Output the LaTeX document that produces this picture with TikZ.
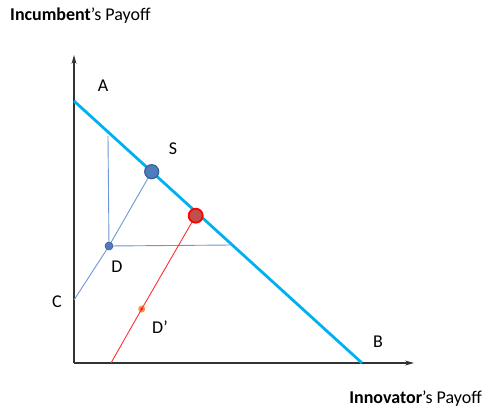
\documentclass[tikz,border=0pt]{standalone}
\usepackage{fontspec}
\setmainfont{Carlito}
\usepackage{tikz}
\usetikzlibrary{arrows.meta, positioning, calc}
\usepackage{xcolor}
\definecolor{frontcyan}{HTML}{00B0F0}
\definecolor{pathblue}{HTML}{6F97D0}
\definecolor{dotblue}{HTML}{4F7CBD}
\definecolor{dotedge}{HTML}{3A5F91}
\definecolor{dotred}{HTML}{C0504D}
\definecolor{linered}{HTML}{FF3030}
\definecolor{dotorange}{HTML}{F79646}

\begin{document}
\begin{tikzpicture}[x=1pt, y=-1pt,
      lbl/.style={font=\fontsize{18}{20}\selectfont, inner sep=0pt},
      axis/.style={-{Stealth[length=9pt, width=5pt]}, line width=1.1pt, black!80},
      frontier/.style={line width=2.8pt, frontcyan},
      guide/.style={line width=0.9pt, pathblue},
      dealpath/.style={line width=0.9pt, linered},
      pt/.style={circle, inner sep=0pt}
    ]
      \useasboundingbox (0,0) rectangle (487,414);

      % axes
      \coordinate (O) at (74,363);
      \coordinate (ytip) at (74,55);
      \coordinate (xtip) at (414,363);
      \draw[axis] (O) -- (ytip);
      \draw[axis] (O) -- (xtip);

      % frontier A--B
      \coordinate (Afr) at (74,101);
      \coordinate (Bfr) at (362,363);
      \draw[frontier] (Afr) -- (Bfr);

      % threat point and bargaining lines
      \coordinate (C) at (74,300);
      \coordinate (Dtop) at (108,136);
      \coordinate (Dright) at (232,245);
      \coordinate (Dbot) at (111,363);
      \node[pt, minimum size=8pt] (D) at (109,246) {};
      \node[pt, minimum size=14pt] (S) at (151.7,171.7) {};
      \node[pt, minimum size=14pt] (R) at (195.7,215.7) {};
      \node[pt, minimum size=7pt, fill=dotorange] (Dp) at (141.7,309) {};

      \draw[guide] (D.center) -- (Dtop);
      \draw[guide] (D.center) -- (Dright);
      \draw[guide] (C) -- (D.center) -- (S.center);
      \draw[dealpath] (Dbot) -- (Dp.center) -- (R.center);
      \node[pt, minimum size=2.5pt, fill=red] at (Dp.center) {};
      \node[pt, minimum size=8pt, fill=dotblue, draw=dotedge, line width=0.6pt] at (D.center) {};
      \node[pt, minimum size=14pt, fill=dotblue, draw=dotedge, line width=1.2pt] at (S.center) {};
      \node[pt, minimum size=14pt, fill=dotred, draw=red, line width=1.8pt] at (R.center) {};

      % labels
      \node[lbl] (labA) at (103,86) {A};
      \node[lbl] (labS) at (173,149) {S};
      \node[lbl] (labD) at (117,267) {D};
      \node[lbl] (labC) at (57,302) {C};
      \node[lbl] (labDp) at (160,327) {D’};
      \node[lbl] (labB) at (378,342) {B};
      \node[lbl, anchor=base west] (ylab) at (10,21) {\textbf{Incumbent}’s Payoff};
      \node[lbl, anchor=base east] (xlab) at (482,403) {\textbf{Innovator}’s Payoff};
    \end{tikzpicture}
\end{document}
